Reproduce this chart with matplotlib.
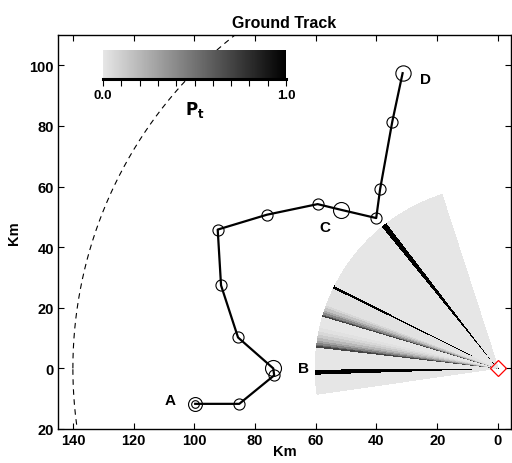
import numpy as np
import matplotlib
matplotlib.use('Agg')
import matplotlib.pyplot as plt
from matplotlib.colors import LinearSegmentedColormap

plt.rcParams['font.family'] = ['Liberation Sans', 'DejaVu Sans']
plt.rcParams['font.weight'] = 'bold'

# ground track (km east/north of the site, x axis is reversed)
track_x = [99.7, 85.2, 73.7, 74.0, 85.6, 91.2, 92.3, 76.1, 59.4, 51.6, 40.1, 38.8, 34.8, 31.4]
track_y = [-11.7, -11.7, -2.3, 0.0, 10.2, 27.4, 45.8, 50.7, 54.2, 52.3, 49.6, 59.2, 81.4, 97.4]
marker_size = [10, 8, 8, 11.5, 8, 8, 8, 8, 8, 11.5, 8, 8, 8, 11]

# labelled events
event_names = ['A', 'B', 'C', 'D']
event_x = [108.0, 64.0, 57.0, 24.0]
event_y = [-10.5, 0.0, 46.7, 95.4]

# P_t sectors of the fan (azimuth edges in degrees, value per sector)
fan_edges = [-8, -1.8, -0.2, 6.8, 7.3, 7.8, 8.4, 9.1, 9.9, 10.8, 11.8, 13.0,
             16.6, 17.0, 17.5, 18.1, 18.8, 19.6, 20.5, 26.2, 27.1, 41.5,
             50.9, 52.8, 63.0, 72]
fan_pt = [0.0, 1.0, 0.0, 0.7, 0.55, 0.42, 0.3, 0.2, 0.12, 0.06, 0.02, 0.0,
          0.72, 0.55, 0.4, 0.26, 0.15, 0.07, 0.02, 1.0, 0.0, -0.02,
          1.0, -0.02, 0.0]
fan_radius = 60.0
range_ring = 140.0

cmap = LinearSegmentedColormap.from_list('pt', [(0.9, 0.9, 0.9), (0, 0, 0)])

fig = plt.figure(figsize=(5.12, 4.64), dpi=100)
ax = fig.add_axes([58 / 512, 34 / 464, 453 / 512, 394 / 464])

# fan
theta = np.linspace(fan_edges[0], fan_edges[-1], 1601)
mid = 0.5 * (theta[:-1] + theta[1:])
idx = np.clip(np.searchsorted(fan_edges, mid) - 1, 0, len(fan_pt) - 1)
vals = np.array(fan_pt)[idx]
r = np.array([0.0, fan_radius])
T, R = np.meshgrid(np.radians(theta), r)
mesh = ax.pcolormesh(R * np.cos(T), R * np.sin(T), vals[None, :], cmap=cmap,
                     vmin=0, vmax=1, shading='flat', edgecolors='face',
                     linewidth=0.2, zorder=1)

# range ring
a = np.linspace(0, 2 * np.pi, 800)
ax.plot(range_ring * np.cos(a), range_ring * np.sin(a), 'k--', lw=0.8,
        dashes=(5, 4), zorder=2)

# track
ax.plot(track_x, track_y, 'k-', lw=1.6, zorder=3)
for x, y, s in zip(track_x, track_y, marker_size):
    ax.plot(x, y, 'o', mfc='none', mec='k', mew=0.8, ms=s, zorder=4)
ax.plot(track_x[0], track_y[0], 'o', mfc='none', mec='k', mew=0.8, ms=5.5, zorder=4)

for n, x, y in zip(event_names, event_x, event_y):
    ax.text(x, y, n, fontsize=11, fontweight='bold', ha='center', va='center')

ax.plot(0, 0, 'D', mfc='none', mec='red', mew=0.9, ms=8, zorder=5)

ax.set_xlim(144.9, -4.3)
ax.set_ylim(-20, 110)
ax.set_xticks([140, 120, 100, 80, 60, 40, 20, 0])
ax.set_yticks([-20, 0, 20, 40, 60, 80, 100])
ax.set_yticklabels(['20', '0', '20', '40', '60', '80', '100'])
ax.tick_params(direction='in', top=True, right=True, length=4, width=0.8,
               labelsize=10.5, pad=3)
for lab in ax.get_xticklabels() + ax.get_yticklabels():
    lab.set_fontweight('bold')
for sp in ax.spines.values():
    sp.set_linewidth(1.0)
ax.set_xlabel('Km', fontsize=10.5, fontweight='bold', labelpad=-2)
ax.set_ylabel('Km', fontsize=10.5, fontweight='bold', labelpad=6)
ax.set_title('Ground Track', fontsize=11.5, fontweight='bold', pad=6)

# colorbar
cax = fig.add_axes([103 / 512, (464 - 80) / 464, 183 / 512, 29 / 464])
cb = fig.colorbar(mesh, cax=cax, orientation='horizontal')
cb.outline.set_visible(False)
cax.axhline(0, color='k', lw=2.2, clip_on=False)
cb.set_ticks(np.linspace(0, 1, 11))
cb.set_ticklabels(['0.0'] + [''] * 9 + ['1.0'])
cax.tick_params(direction='out', length=5, width=0.8, labelsize=9.5, pad=2)
for lab in cax.get_xticklabels():
    lab.set_fontweight('bold')
cb.set_label(r'$\mathbf{P_t}$', fontsize=12, labelpad=-1)

fig.savefig('out.png', dpi=100)
